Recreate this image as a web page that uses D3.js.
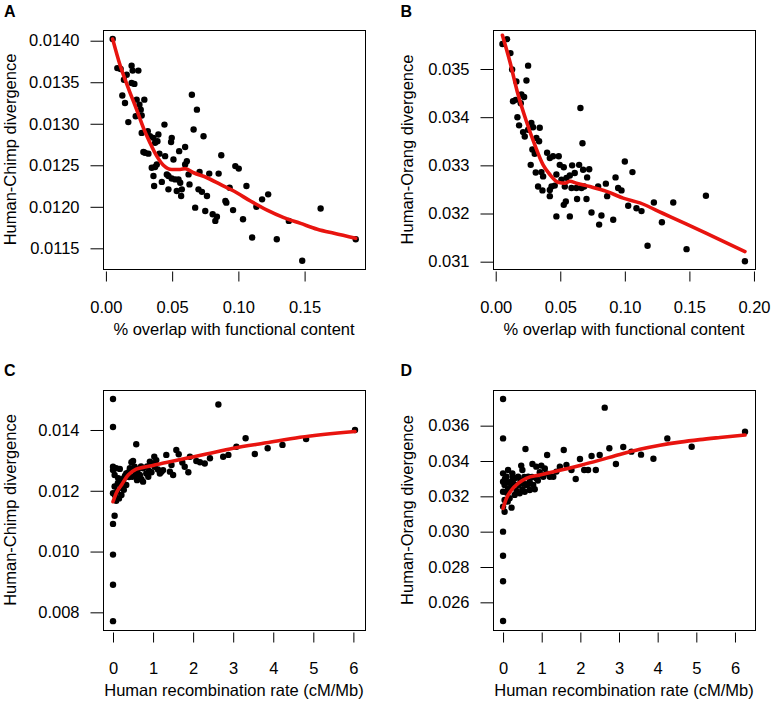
<!DOCTYPE html>
<html><head><meta charset="utf-8">
<script src="https://cdn.jsdelivr.net/npm/d3@7"></script>
<style>
body{margin:0;background:#fff}
svg{display:block}
text{font-family:"Liberation Sans",Arial,Helvetica,sans-serif;fill:#000}
</style>
</head><body>
<svg id="chart" width="772" height="703"></svg>
<script>
// ---------- Panel A: overlap vs Human-Chimp divergence ----------
const aOverlap = [0.0051,0.0086,0.0111,0.0194,0.0202,0.0245,0.0157,0.0136,0.0194,0.0215,0.0124,0.0144,0.0232,0.0290,0.0253,0.0263,0.0225,0.0270,0.0169,0.0270,0.0316,0.0333,0.0359,0.0396,0.0442,0.0371,0.0389,0.0295,0.0283,0.0321,0.0404,0.0447,0.0497,0.0492,0.0553,0.0598,0.0510,0.0346,0.0371,0.0384,0.0359,0.0460,0.0472,0.0497,0.0422,0.0364,0.0472,0.0523,0.0548,0.0561,0.0535,0.0573,0.0568,0.0598,0.0611,0.0631,0.0624,0.0649,0.0687,0.0662,0.0737,0.0707,0.0780,0.0851,0.0871,0.0699,0.0725,0.0763,0.0902,0.0909,0.0977,0.1003,0.0934,0.1061,0.0674,0.0750,0.0806,0.0826,0.0838,0.0960,0.1035,0.1104,0.1136,0.1179,0.1225,0.1290,0.1381,0.1482,0.1621,0.1886];
const aChimp = [0.01402,0.01367,0.01366,0.01370,0.01364,0.01364,0.01359,0.01353,0.01349,0.01348,0.01334,0.01325,0.01329,0.01329,0.01323,0.01317,0.01309,0.01310,0.01302,0.01289,0.01291,0.01285,0.01283,0.01287,0.01299,0.01277,0.01279,0.01265,0.01266,0.01264,0.01264,0.01261,0.01283,0.01278,0.01267,0.01272,0.01257,0.01247,0.01248,0.01251,0.01237,0.01239,0.01237,0.01234,0.01230,0.01225,0.01221,0.01233,0.01233,0.01229,0.01219,0.01221,0.01213,0.01251,0.01255,0.01227,0.01239,0.01335,0.01317,0.01293,0.01285,0.01242,0.01240,0.01240,0.01262,0.01221,0.01218,0.01213,0.01207,0.01205,0.01249,0.01246,0.01223,0.01225,0.01199,0.01195,0.01191,0.01183,0.01188,0.01196,0.01185,0.01163,0.01200,0.01209,0.01215,0.01161,0.01183,0.01135,0.01198,0.01161];
const aFitX = [0.0051,0.0106,0.0169,0.0232,0.0283,0.0333,0.0384,0.0434,0.0497,0.0561,0.0598,0.0662,0.0763,0.0864,0.0965,0.1091,0.1217,0.1343,0.1470,0.1596,0.1722,0.1886];
const aFitY = [0.01402,0.01371,0.01343,0.01317,0.01295,0.01277,0.01261,0.01250,0.01245,0.01245,0.01246,0.01241,0.01235,0.01227,0.01219,0.01207,0.01196,0.01187,0.01180,0.01173,0.01168,0.01162];
const aXTicks = [0, 0.05, 0.10, 0.15];
const aYTicks = [0.0115, 0.0120, 0.0125, 0.0130, 0.0135, 0.0140];

// ---------- Panel B: overlap vs Human-Orang divergence ----------
const bOverlap = [0.0052,0.0088,0.0114,0.0127,0.0160,0.0134,0.0155,0.0199,0.0220,0.0194,0.0251,0.0238,0.0168,0.0181,0.0212,0.0225,0.0251,0.0276,0.0289,0.0341,0.0315,0.0336,0.0284,0.0302,0.0271,0.0310,0.0354,0.0367,0.0398,0.0419,0.0444,0.0488,0.0328,0.0362,0.0419,0.0432,0.0457,0.0419,0.0470,0.0496,0.0527,0.0509,0.0548,0.0574,0.0592,0.0612,0.0646,0.0677,0.0724,0.0708,0.0656,0.0672,0.0535,0.0587,0.0625,0.0664,0.0685,0.0543,0.0527,0.0574,0.0470,0.0630,0.0703,0.0742,0.0793,0.0801,0.0819,0.0853,0.0863,0.0910,0.0928,0.0948,0.0974,0.1000,0.1059,0.1026,0.1090,0.1129,0.1176,0.1225,0.1287,0.1375,0.1478,0.1628,0.1930];
const bOrang = [0.03552,0.03562,0.03533,0.03499,0.03474,0.03433,0.03436,0.03447,0.03442,0.03429,0.03507,0.03476,0.03400,0.03383,0.03369,0.03360,0.03374,0.03388,0.03379,0.03378,0.03357,0.03350,0.03333,0.03324,0.03301,0.03285,0.03286,0.03277,0.03326,0.03315,0.03319,0.03319,0.03256,0.03248,0.03249,0.03256,0.03258,0.03236,0.03281,0.03301,0.03296,0.03270,0.03274,0.03279,0.03300,0.03284,0.03301,0.03291,0.03292,0.03275,0.03419,0.03346,0.03256,0.03253,0.03253,0.03253,0.03256,0.03225,0.03218,0.03194,0.03194,0.03230,0.03230,0.03202,0.03256,0.03177,0.03196,0.03262,0.03236,0.03187,0.03275,0.03253,0.03248,0.03308,0.03286,0.03216,0.03211,0.03205,0.03133,0.03223,0.03182,0.03223,0.03126,0.03237,0.03101];
const bFitX = [0.0052,0.0109,0.0173,0.0238,0.0302,0.0367,0.0419,0.0483,0.0535,0.0574,0.0625,0.0729,0.0858,0.0987,0.1116,0.1297,0.1478,0.1685,0.1930];
const bFitY = [0.03570,0.03516,0.03447,0.03391,0.03343,0.03301,0.03281,0.03265,0.03263,0.03267,0.03263,0.03256,0.03246,0.03232,0.03222,0.03200,0.03178,0.03152,0.03121];
const bXTicks = [0, 0.05, 0.10, 0.15, 0.20];
const bYTicks = [0.031, 0.032, 0.033, 0.034, 0.035];

// ---------- Panel C: recombination vs Human-Chimp divergence ----------
const cRecomb = [0,0,0,0,0,0,0,0,0,0.04,0.04,0.08,0.13,0.17,0.04,0.10,0.15,0.08,0.21,0.27,0.33,0.27,0.33,0.42,0.46,0.50,0.54,0.58,0.58,0.67,0.75,0.75,0.83,0.92,0.96,1.03,1.08,1.04,1.17,1.21,1.33,1.42,1.46,1.50,1.58,1.64,1.79,1.88,1.92,2.08,2.17,2.29,2.42,2.75,2.88,3.08,3.31,3.54,3.86,4.23,4.82,6.04,2.63,0.48,0.71,0.88,1.25,1.73,0.05,0.12,0.20,0.25,0.30,0.38,0.45,0.55,0.62,0.70,0.85,1.00,1.12,0.60,0.40,0.90];
const cChimp = [0.01502,0.01410,0.01279,0.01268,0.01192,0.01091,0.00990,0.00891,0.00771,0.01118,0.01252,0.01274,0.01241,0.01272,0.01214,0.01197,0.01175,0.01167,0.01186,0.01203,0.01219,0.01241,0.01257,0.01274,0.01294,0.01298,0.01279,0.01353,0.01261,0.01252,0.01230,0.01274,0.01257,0.01296,0.01261,0.01312,0.01301,0.01279,0.01257,0.01263,0.01318,0.01263,0.01285,0.01252,0.01334,0.01320,0.01279,0.01261,0.01312,0.01298,0.01294,0.01290,0.01307,0.01312,0.01318,0.01345,0.01373,0.01321,0.01340,0.01351,0.01370,0.01400,0.01484,0.01246,0.01238,0.01246,0.01268,0.01293,0.01185,0.01225,0.01210,0.01230,0.01250,0.01260,0.01270,0.01250,0.01270,0.01280,0.01280,0.01290,0.01270,0.01235,0.01245,0.01265];
const cFitX = [0,0.08,0.21,0.38,0.58,0.83,1.33,1.83,2.33,3.00,3.83,4.67,6.04];
const cFitY = [0.01164,0.01192,0.01219,0.01252,0.01271,0.01279,0.01293,0.01307,0.01321,0.01340,0.01358,0.01376,0.01395];
const cXTicks = [0, 1, 2, 3, 4, 5, 6];
const cYTicks = [0.008, 0.010, 0.012, 0.014];

// ---------- Panel D: recombination vs Human-Orang divergence ----------
const dRecomb = [0,0,0,0,0,0.04,0,0.04,0,0,0,0,0.13,0.24,0.04,0.13,0.22,0.17,0.22,0.30,0.43,0.39,0.47,0.50,0.52,0.60,0.69,0.69,0.56,0.78,0.86,0.58,0.76,0.86,0.99,1.08,0.95,1.14,1.21,1.30,1.47,1.57,1.64,1.77,1.88,1.99,2.10,2.20,2.29,2.40,2.50,2.63,2.75,2.92,3.11,3.32,3.57,3.89,4.25,4.88,6.26,0.09,0.30,0.39,0.65,1.04,1.38,0.82,1.12,0.05,0.10,0.15,0.20,0.28,0.35,0.45,0.55,0.65,0.75,0.90,1.00,0.50,0.25,0.12];
const dOrang = [0.03751,0.03528,0.03330,0.03283,0.03226,0.03179,0.03142,0.03113,0.03000,0.02864,0.02719,0.02494,0.03349,0.03330,0.03264,0.03245,0.03283,0.03189,0.03136,0.03208,0.03217,0.03264,0.03374,0.03349,0.03274,0.03264,0.03283,0.03236,0.03226,0.03264,0.03302,0.03468,0.03383,0.03368,0.03374,0.03358,0.03336,0.03434,0.03311,0.03311,0.03368,0.03462,0.03377,0.03349,0.03298,0.03411,0.03349,0.03349,0.03428,0.03349,0.03434,0.03702,0.03472,0.03383,0.03479,0.03453,0.03436,0.03413,0.03528,0.03481,0.03566,0.03311,0.03302,0.03311,0.03311,0.03311,0.03340,0.03240,0.03330,0.03300,0.03220,0.03280,0.03250,0.03270,0.03230,0.03290,0.03310,0.03270,0.03310,0.03290,0.03320,0.03240,0.03310,0.03170];
const dFitX = [0,0.09,0.22,0.39,0.60,0.95,1.47,1.99,2.50,3.02,3.54,4.06,4.58,5.09,5.61,6.26];
const dFitY = [0.03132,0.03189,0.03236,0.03274,0.03302,0.03321,0.03347,0.03375,0.03405,0.03437,0.03466,0.03489,0.03507,0.03521,0.03533,0.03547];
const dXTicks = [0, 1, 2, 3, 4, 5, 6];
const dYTicks = [0.026, 0.028, 0.030, 0.032, 0.034, 0.036];

const svg = d3.select("#chart");
const FS = 16.5;

function panel(o) {
  const x = d3.scaleLinear().domain(o.xDom).range([o.x0, o.x1]);
  const y = d3.scaleLinear().domain(o.yDom).range([o.y1, o.y0]);
  const g = svg.append("g");

  // points
  g.append("g").selectAll("circle")
    .data(d3.zip(o.xs, o.ys)).join("circle")
    .attr("cx", d => x(d[0])).attr("cy", d => y(d[1]))
    .attr("r", 3.2).attr("fill", "#000");

  // fitted curve
  g.append("path")
    .datum(d3.zip(o.fx, o.fy))
    .attr("fill", "none").attr("stroke", "#e8140f")
    .attr("stroke-width", 3.6).attr("stroke-linecap", "round").attr("stroke-linejoin", "round")
    .attr("d", d3.line().x(d => x(d[0])).y(d => y(d[1])).curve(d3.curveMonotoneX));

  // box
  g.append("rect").attr("x", o.x0 + 0.5).attr("y", o.y0 + 0.5)
    .attr("width", o.x1 - o.x0).attr("height", o.y1 - o.y0)
    .attr("fill", "none").attr("stroke", "#000").attr("stroke-width", 1);

  // y axis
  const ya = g.append("g").attr("transform", `translate(${o.x0 + 0.5},0)`)
    .call(d3.axisLeft(y).tickValues(o.yTicks).tickSize(13).tickPadding(11).tickFormat(d3.format(o.yFmt)));
  ya.select(".domain").remove();
  ya.attr("font-family", null).attr("font-size", null);
  ya.selectAll("text").style("font-size", FS + "px");

  // x axis
  const xa = g.append("g").attr("transform", `translate(0,${o.y1 + 2.5})`)
    .call(d3.axisBottom(x).tickValues(o.xTicks).tickSize(10).tickPadding(20).tickFormat(d3.format(o.xFmt)));
  xa.select(".domain").remove();
  xa.attr("font-family", null).attr("font-size", null);
  xa.selectAll("text").style("font-size", FS + "px");

  // axis titles
  g.append("text").attr("x", (o.x0 + o.x1) / 2).attr("y", o.y1 + 66)
    .attr("text-anchor", "middle").style("font-size", FS + "px").text(o.xTitle);
  g.append("text").attr("transform", `translate(${o.yTitleX},${(o.y0 + o.y1) / 2}) rotate(-90)`)
    .attr("text-anchor", "middle").style("font-size", FS + "px").text(o.yTitle);

  // panel letter
  g.append("text").attr("x", o.letterX).attr("y", o.letterY)
    .style("font-size", "16px").style("font-weight", "bold").text(o.letter);
}

panel({xs: aOverlap, ys: aChimp, fx: aFitX, fy: aFitY, xTicks: aXTicks, yTicks: aYTicks,
  xDom: [-0.0022, 0.1956], yDom: [0.011251, 0.014129], x0: 103, x1: 365, y0: 30, y1: 269,
  xFmt: ".2f", yFmt: ".4f", xTitle: "% overlap with functional content", yTitle: "Human-Chimp divergence",
  yTitleX: 16, letter: "A", letterX: 4, letterY: 16.5});
panel({xs: bOverlap, ys: bOrang, fx: bFitX, fy: bFitY, xTicks: bXTicks, yTicks: bYTicks,
  xDom: [-0.0021, 0.2008], yDom: [0.030848, 0.03581], x0: 493, x1: 755, y0: 30, y1: 269,
  xFmt: ".2f", yFmt: ".3f", xTitle: "% overlap with functional content", yTitle: "Human-Orang divergence",
  yTitleX: 412.5, letter: "B", letterX: 400.5, letterY: 16.5});
panel({xs: cRecomb, ys: cChimp, fx: cFitX, fy: cFitY, xTicks: cXTicks, yTicks: cYTicks,
  xDom: [-0.25, 6.29], yDom: [0.007419, 0.015316], x0: 103, x1: 365, y0: 390, y1: 630,
  xFmt: "d", yFmt: ".3f", xTitle: "Human recombination rate (cM/Mb)", yTitle: "Human-Chimp divergence",
  yTitleX: 16, letter: "C", letterX: 4, letterY: 375.5});
panel({xs: dRecomb, ys: dOrang, fx: dFitX, fy: dFitY, xTicks: dXTicks, yTicks: dYTicks,
  xDom: [-0.26, 6.518], yDom: [0.024434, 0.038019], x0: 493, x1: 755, y0: 390, y1: 630,
  xFmt: "d", yFmt: ".3f", xTitle: "Human recombination rate (cM/Mb)", yTitle: "Human-Orang divergence",
  yTitleX: 412.5, letter: "D", letterX: 400.5, letterY: 375.5});
</script>
</body></html>
